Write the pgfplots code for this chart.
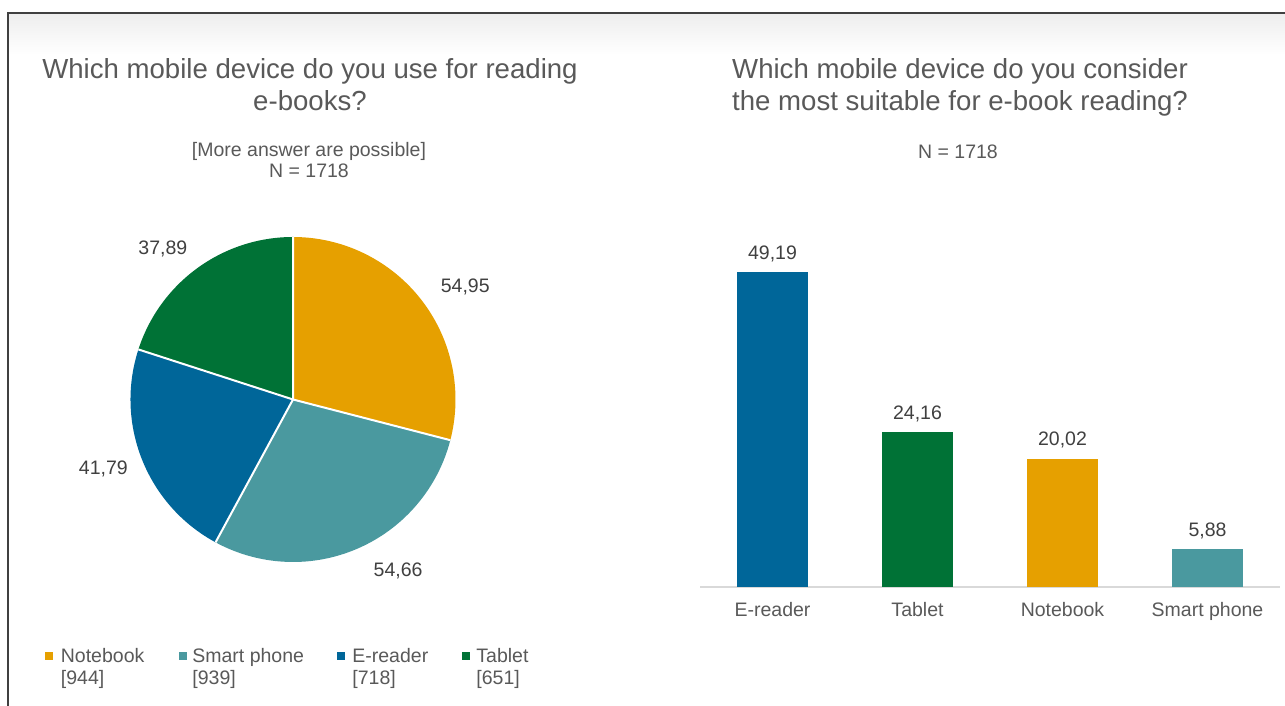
\documentclass[border=0pt]{standalone}
\usepackage{fontspec}
\setmainfont{Liberation Sans}
\usepackage{pgfplots}
\pgfplotsset{compat=1.18}

\definecolor{cNote}{HTML}{E6A000}
\definecolor{cSmart}{HTML}{4A999F}
\definecolor{cERead}{HTML}{006699}
\definecolor{cTablet}{HTML}{007236}
\definecolor{txt}{HTML}{595959}
\definecolor{val}{HTML}{404040}

\pgfkeys{/pgf/number format/.cd, use comma, fixed, fixed zerofill, precision=2, assume math mode=true}

\newcommand\smallfont{\fontsize{9.75}{11}\selectfont}
\newcommand\titlefont{\fontsize{13.8}{16}\selectfont}

% pie shares (%)
\def\pN{54.95}
\def\pS{54.66}
\def\pE{41.79}
\def\pT{37.89}

\begin{document}
\begin{tikzpicture}[x=1pt,y=1pt]
\path[use as bounding box] (0,0) rectangle (642.5,353);

% slide frame
\shade[top color=black!7, bottom color=white] (4,325.5) rectangle (642.5,346.6);
\draw[line width=0.75pt, black!75] (4,0) -- (4,346.6) -- (642.5,346.6);

% titles
\node[font=\titlefont, text=txt, anchor=base] at (155,313.5) {Which mobile device do you use for reading};
\node[font=\titlefont, text=txt, anchor=base] at (155,297.5) {e-books?};
\node[font=\smallfont, text=txt, anchor=base] at (154.5,274.5) {[More answer are possible]};
\node[font=\smallfont, text=txt, anchor=base] at (154.5,264) {N = 1718};

\node[font=\titlefont, text=txt, anchor=base west, inner sep=0pt] at (365.9,313.5) {Which mobile device do you consider};
\node[font=\titlefont, text=txt, anchor=base west, inner sep=0pt] at (365.9,297.5) {the most suitable for e-book reading?};
\node[font=\smallfont, text=txt, anchor=base] at (479,273.5) {N = 1718};

% pie angles
\pgfmathsetmacro\tot{\pN+\pS+\pE+\pT}
\pgfmathsetmacro\aA{90}
\pgfmathsetmacro\aB{\aA-\pN/\tot*360}
\pgfmathsetmacro\aC{\aB-\pS/\tot*360}
\pgfmathsetmacro\aD{\aC-\pE/\tot*360}
\pgfmathsetmacro\aE{\aD-\pT/\tot*360}
\pgfmathsetmacro\mN{(\aA+\aB)/2-4.5}
\pgfmathsetmacro\mS{(\aB+\aC)/2+8}
\pgfmathsetmacro\mE{(\aC+\aD)/2-1.7}
\pgfmathsetmacro\mT{(\aD+\aE)/2+4.8}
\def\R{81.25}

\begin{axis}[at={(146.5pt,153.25pt)}, anchor=center, hide axis,
  x=1pt, y=1pt, xmin=-140, xmax=140, ymin=-140, ymax=140, clip=false]
  \fill[cNote] (axis cs:0,0) -- (axis cs:{\R*cos(\aA)},{\R*sin(\aA)})
    arc[start angle=\aA, end angle=\aB, radius=\R pt] -- cycle;
  \fill[cSmart] (axis cs:0,0) -- (axis cs:{\R*cos(\aB)},{\R*sin(\aB)})
    arc[start angle=\aB, end angle=\aC, radius=\R pt] -- cycle;
  \fill[cERead] (axis cs:0,0) -- (axis cs:{\R*cos(\aC)},{\R*sin(\aC)})
    arc[start angle=\aC, end angle=\aD, radius=\R pt] -- cycle;
  \fill[cTablet] (axis cs:0,0) -- (axis cs:{\R*cos(\aD)},{\R*sin(\aD)})
    arc[start angle=\aD, end angle=\aE, radius=\R pt] -- cycle;
  % white separators
  \draw[white, line width=1pt] (axis cs:{\R*cos(\aA)},{\R*sin(\aA)}) -- (axis cs:0,0) -- (axis cs:{\R*cos(\aB)},{\R*sin(\aB)});
  \draw[white, line width=1pt] (axis cs:0,0) -- (axis cs:{\R*cos(\aC)},{\R*sin(\aC)});
  \draw[white, line width=1pt] (axis cs:0,0) -- (axis cs:{\R*cos(\aD)},{\R*sin(\aD)});
  % value labels
  \node[font=\smallfont, text=val] at (axis cs:{103*cos(\mN)},{103*sin(\mN)}) {\pgfmathprintnumber{\pN}};
  \node[font=\smallfont, text=val] at (axis cs:{100.5*cos(\mS)},{100.5*sin(\mS)}) {\pgfmathprintnumber{\pS}};
  \node[font=\smallfont, text=val] at (axis cs:{101*cos(\mE)},{101*sin(\mE)}) {\pgfmathprintnumber{\pE}};
  \node[font=\smallfont, text=val] at (axis cs:{99.5*cos(\mT)},{99.5*sin(\mT)}) {\pgfmathprintnumber{\pT}};
\end{axis}

% pie legend
\foreach \cx/\tx/\col/\name/\n in {24.7/30.25/cNote/Notebook/944, 91.3/96/cSmart/Smart phone/939,
    170.5/176/cERead/E-reader/718, 233/238/cTablet/Tablet/651}{
  \fill[\col] (\cx-2,23) rectangle (\cx+2,27);
  \node[font=\smallfont, text=txt, anchor=base west, inner sep=0pt] at (\tx,21.5) {\name};
  \node[font=\smallfont, text=txt, anchor=base west, inner sep=0pt] at (\tx,10.5) {[\n]};
}

% bar chart
\begin{axis}[at={(350pt,59.5pt)}, anchor=south west, scale only axis,
  width=290pt, height=176.1pt,
  ymin=0, ymax=55, xmin=-0.5, xmax=3.5,
  ybar, bar width=35.5pt, bar shift=0pt,
  axis y line=none, axis x line=bottom,
  axis line style={-, draw=black!15, line width=0.75pt},
  xtick={0,1,2,3}, xticklabels={E-reader,Tablet,Notebook,{Smart phone}},
  major tick length=0pt,
  xticklabel style={font=\smallfont, text=txt, anchor=base, yshift=-15pt},
  nodes near coords,
  every node near coord/.append style={font=\smallfont, text=val, anchor=base, yshift=6.5pt, inner sep=0pt},
  clip=false]
  \addplot[fill=cERead, draw=none] coordinates {(0,49.19)};
  \addplot[fill=cTablet, draw=none] coordinates {(1,24.16)};
  \addplot[fill=cNote, draw=none] coordinates {(2,20.02)};
  \addplot[fill=cSmart, draw=none] coordinates {(3,5.88)};
\end{axis}
\end{tikzpicture}
\end{document}
